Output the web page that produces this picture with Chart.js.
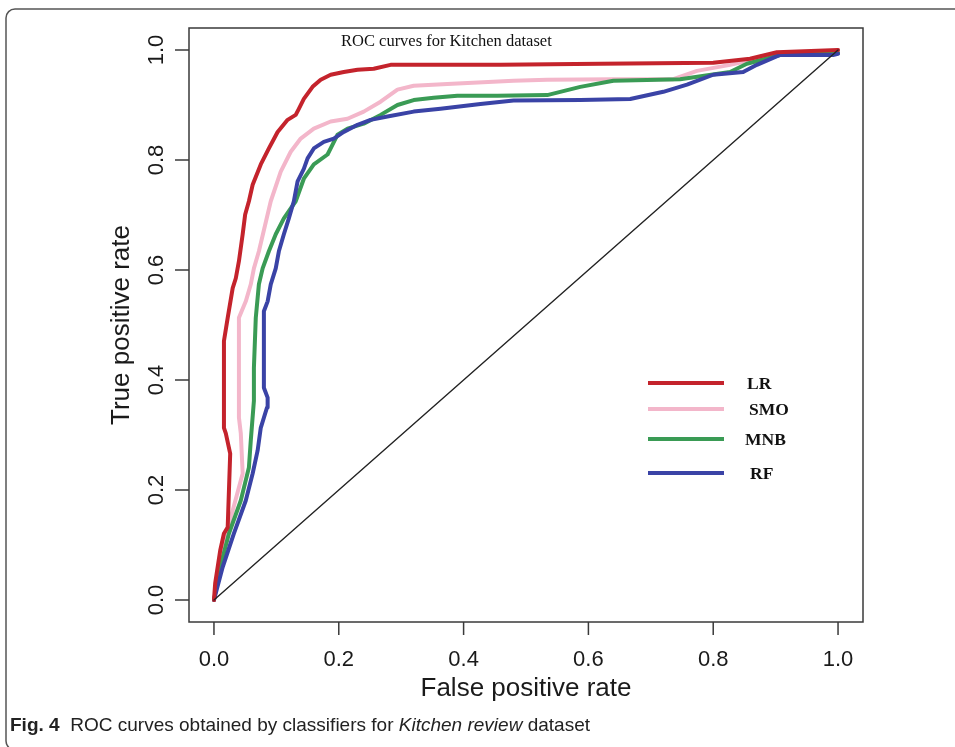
<!DOCTYPE html>
<html>
<head>
<meta charset="utf-8">
<script src="https://cdn.jsdelivr.net/npm/chart.js@4/dist/chart.umd.min.js"></script>
<style>
  html, body { margin: 0; padding: 0; background: #ffffff; }
  #wrap { width: 955px; height: 747px; }
</style>
</head>
<body>
<div id="wrap"><canvas id="c" width="955" height="747"></canvas></div>
<script>
// ---- data ----
const seriesNames = ["LR", "SMO", "MNB", "RF"];
const tickValues = [0.0, 0.2, 0.4, 0.6, 0.8, 1.0];
const tickLabels = ["0.0", "0.2", "0.4", "0.6", "0.8", "1.0"];
const chartTitle = "ROC curves for Kitchen dataset";
const xTitle = "False positive rate";
const yTitle = "True positive rate";

const fprLR = [0, 0.002, 0.010, 0.016, 0.022, 0.026, 0.019, 0.016, 0.016, 0.022, 0.030, 0.035, 0.040, 0.046, 0.050, 0.056, 0.062, 0.075, 0.088, 0.102, 0.118, 0.131, 0.136, 0.144, 0.158, 0.171, 0.187, 0.208, 0.230, 0.256, 0.283, 0.459, 0.619, 0.800, 0.859, 0.902, 1.0];
const tprLR = [0, 0.031, 0.090, 0.121, 0.132, 0.266, 0.303, 0.313, 0.471, 0.513, 0.567, 0.585, 0.616, 0.665, 0.701, 0.725, 0.755, 0.792, 0.821, 0.851, 0.873, 0.882, 0.893, 0.911, 0.933, 0.946, 0.955, 0.960, 0.964, 0.966, 0.973, 0.973, 0.975, 0.977, 0.984, 0.996, 1.0];

const fprSMO = [0, 0.014, 0.027, 0.046, 0.043, 0.040, 0.040, 0.051, 0.059, 0.064, 0.072, 0.091, 0.107, 0.123, 0.139, 0.160, 0.187, 0.214, 0.240, 0.267, 0.294, 0.320, 0.374, 0.480, 0.534, 0.640, 0.736, 0.774, 0.827, 0.907, 0.987, 1.0];
const tprSMO = [0, 0.091, 0.150, 0.230, 0.303, 0.332, 0.513, 0.543, 0.574, 0.603, 0.634, 0.725, 0.779, 0.815, 0.839, 0.857, 0.870, 0.875, 0.888, 0.906, 0.928, 0.935, 0.938, 0.944, 0.946, 0.947, 0.947, 0.962, 0.973, 0.993, 0.995, 1.0];

const fprMNB = [0, 0.010, 0.024, 0.043, 0.056, 0.059, 0.064, 0.064, 0.067, 0.072, 0.078, 0.088, 0.099, 0.112, 0.131, 0.144, 0.160, 0.182, 0.190, 0.198, 0.214, 0.240, 0.267, 0.294, 0.320, 0.352, 0.390, 0.454, 0.534, 0.587, 0.640, 0.747, 0.827, 0.854, 0.907, 1.0];
const tprMNB = [0, 0.060, 0.121, 0.181, 0.241, 0.290, 0.362, 0.422, 0.513, 0.574, 0.603, 0.634, 0.665, 0.694, 0.725, 0.766, 0.792, 0.810, 0.828, 0.846, 0.857, 0.866, 0.882, 0.900, 0.909, 0.913, 0.917, 0.917, 0.918, 0.933, 0.944, 0.947, 0.960, 0.975, 0.991, 0.995];

const fprRF = [0, 0.014, 0.032, 0.051, 0.062, 0.070, 0.075, 0.085, 0.086, 0.080, 0.080, 0.080, 0.086, 0.091, 0.099, 0.104, 0.112, 0.120, 0.128, 0.134, 0.144, 0.150, 0.160, 0.176, 0.192, 0.208, 0.230, 0.251, 0.278, 0.320, 0.363, 0.427, 0.480, 0.587, 0.667, 0.720, 0.758, 0.800, 0.848, 0.870, 0.907, 0.992, 1.0];
const tprRF = [0, 0.060, 0.121, 0.181, 0.230, 0.272, 0.313, 0.350, 0.368, 0.386, 0.453, 0.525, 0.543, 0.574, 0.603, 0.634, 0.665, 0.694, 0.725, 0.761, 0.784, 0.803, 0.821, 0.833, 0.839, 0.851, 0.864, 0.873, 0.879, 0.888, 0.893, 0.902, 0.908, 0.909, 0.911, 0.924, 0.937, 0.955, 0.960, 0.973, 0.991, 0.991, 0.993];

const diagX = [0, 1];
const diagY = [0, 1];

// ---- build ----
const colors = { LR: "#c4232c", SMO: "#f3b6ca", MNB: "#3a9b55", RF: "#3a43a6" };
function pts(xs, ys) { return xs.map((x, i) => ({ x: x, y: ys[i] })); }

const datasets = [
  { label: "diag", data: pts(diagX, diagY), borderColor: "#222222", borderWidth: 1.4 },
  { label: "LR", data: pts(fprLR, tprLR), borderColor: colors.LR, borderWidth: 4 },
  { label: "RF", data: pts(fprRF, tprRF), borderColor: colors.RF, borderWidth: 4 },
  { label: "MNB", data: pts(fprMNB, tprMNB), borderColor: colors.MNB, borderWidth: 4 },
  { label: "SMO", data: pts(fprSMO, tprSMO), borderColor: colors.SMO, borderWidth: 4 }
].map(d => Object.assign(d, { showLine: true, pointRadius: 0, tension: 0, fill: false, borderJoinStyle: "round", borderCapStyle: "round" }));

const decor = {
  id: "decor",
  afterDraw(chart) {
    const ctx = chart.ctx;
    const a = chart.chartArea;
    const xs = chart.scales.x, ys = chart.scales.y;
    ctx.save();
    // plot box
    ctx.strokeStyle = "#3a3a3a";
    ctx.lineWidth = 1.5;
    ctx.strokeRect(a.left, a.top, a.right - a.left, a.bottom - a.top);
    // ticks + labels
    ctx.fillStyle = "#1a1a1a";
    ctx.font = "22px 'Liberation Sans', Arial, sans-serif";
    ctx.textAlign = "center";
    ctx.textBaseline = "middle";
    tickValues.forEach((v, i) => {
      const px = xs.getPixelForValue(v);
      ctx.beginPath(); ctx.moveTo(px, a.bottom); ctx.lineTo(px, a.bottom + 13); ctx.stroke();
      ctx.fillText(tickLabels[i], px, 660);
      const py = ys.getPixelForValue(v);
      ctx.beginPath(); ctx.moveTo(a.left, py); ctx.lineTo(a.left - 14, py); ctx.stroke();
      ctx.save();
      ctx.translate(157, py);
      ctx.rotate(-Math.PI / 2);
      ctx.fillText(tickLabels[i], 0, 0);
      ctx.restore();
    });
    // axis titles
    ctx.font = "26px 'Liberation Sans', Arial, sans-serif";
    ctx.fillText(xTitle, (xs.getPixelForValue(0) + xs.getPixelForValue(1)) / 2, 689);
    ctx.save();
    ctx.translate(122, (a.top + a.bottom) / 2);
    ctx.rotate(-Math.PI / 2);
    ctx.fillText(yTitle, 0, 0);
    ctx.restore();
    // inner title
    ctx.font = "16.5px 'Liberation Serif', 'Times New Roman', serif";
    ctx.textAlign = "left";
    ctx.fillStyle = "#111111";
    ctx.fillText(chartTitle, 341, 42);
    // legend
    const legY = [383, 409, 439, 473];
    const legTx = [747, 749, 745, 750];
    ctx.font = "bold 17.5px 'Liberation Serif', 'Times New Roman', serif";
    seriesNames.forEach((n, i) => {
      ctx.strokeStyle = colors[n];
      ctx.lineWidth = 4;
      ctx.beginPath(); ctx.moveTo(648, legY[i]); ctx.lineTo(724, legY[i]); ctx.stroke();
      ctx.fillStyle = "#111111";
      ctx.fillText(n, legTx[i], legY[i] + 1);
    });
    // caption
    const capParts = [
      { t: "Fig. 4", f: "bold 19px 'Liberation Sans Narrow', 'Liberation Sans', sans-serif" },
      { t: "  ROC curves obtained by classifiers for ", f: "19px 'Liberation Sans Narrow', 'Liberation Sans', sans-serif" },
      { t: "Kitchen review", f: "italic 19px 'Liberation Sans Narrow', 'Liberation Sans', sans-serif" },
      { t: " dataset", f: "19px 'Liberation Sans Narrow', 'Liberation Sans', sans-serif" }
    ];
    let total = 0;
    capParts.forEach(p => { ctx.font = p.f; p.w = ctx.measureText(p.t).width; total += p.w; });
    const sx = 580 / total;
    ctx.save();
    ctx.translate(10, 726);
    ctx.scale(sx, 1);
    ctx.fillStyle = "#222222";
    let cx = 0;
    capParts.forEach(p => { ctx.font = p.f; ctx.fillText(p.t, cx, 0); cx += p.w; });
    ctx.restore();
    // figure frame
    ctx.strokeStyle = "#555555";
    ctx.lineWidth = 1.5;
    const r = 9;
    ctx.beginPath();
    ctx.moveTo(960, 9);
    ctx.lineTo(6 + r, 9);
    ctx.arcTo(6, 9, 6, 9 + r, r);
    ctx.lineTo(6, 750 - r);
    ctx.arcTo(6, 750, 6 + r, 750, r);
    ctx.lineTo(960, 750);
    ctx.stroke();
    ctx.restore();
  }
};

new Chart(document.getElementById("c"), {
  type: "scatter",
  data: { datasets: datasets },
  options: {
    responsive: false,
    devicePixelRatio: 1,
    animation: false,
    layout: { padding: { left: 189, right: 92, top: 28, bottom: 125 } },
    plugins: { legend: { display: false }, tooltip: { enabled: false }, title: { display: false } },
    scales: {
      x: { type: "linear", min: -0.04, max: 1.04, display: false },
      y: { type: "linear", min: -0.04, max: 1.04, display: false }
    }
  },
  plugins: [decor]
});
</script>
</body>
</html>
